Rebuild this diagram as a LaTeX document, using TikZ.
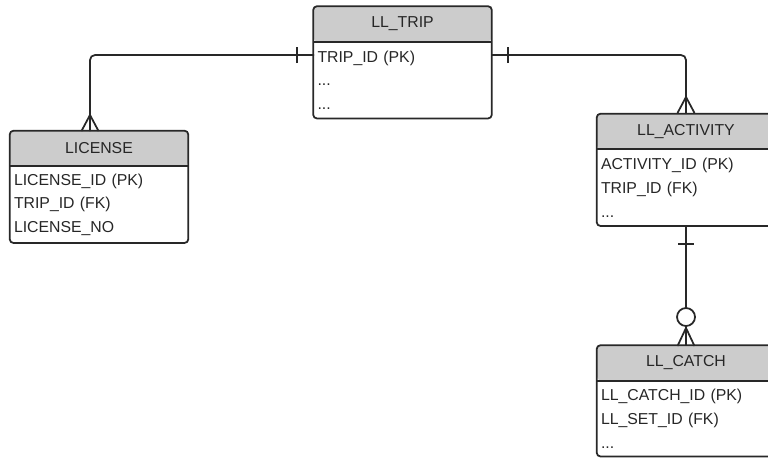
\documentclass[tikz,border=0pt]{standalone}
\usepackage{fontspec}
\setmainfont{Liberation Sans}
\usetikzlibrary{positioning, fit}
\definecolor{headgray}{RGB}{204,204,204}
\definecolor{linegray}{RGB}{40,40,40}

\begin{document}
\begin{tikzpicture}[
  ehead/.style={fill=headgray, rounded corners=0.08cm, minimum width=3.56cm, minimum height=0.7cm, inner sep=0pt, font=\fontsize{9}{11}\selectfont, text=black!85},
  ebody/.style={minimum width=3.56cm, minimum height=1.52cm, text width=3.4cm, align=left, inner sep=0pt, font=\fontsize{9}{13.5}\selectfont, text=black!85},
  eframe/.style={draw=linegray, line width=1pt, rounded corners=0.08cm, inner sep=0pt},
  rel/.style={draw=linegray, line width=1pt, rounded corners=0.1cm},
  foot/.style={draw=linegray, line width=1pt}
]
\useasboundingbox (0,0) rectangle (15.36,9.14);
\clip (0,0) rectangle (15.36,9.14);

% LL_TRIP
\node[ehead] (trip) at (8.05, 8.66) {LL\_TRIP};
\node[ebody, below=0pt of trip] (trip-b) {TRIP\_ID (PK)\\...\\...};
\node[eframe, fit=(trip)(trip-b)] (trip-f) {};
\draw[foot] (trip.south west) -- (trip.south east);

% LICENSE
\node[ehead] (license) at (1.98, 6.17) {LICENSE};
\node[ebody, below=0pt of license] (license-b) {LICENSE\_ID (PK)\\TRIP\_ID (FK)\\LICENSE\_NO};
\node[eframe, fit=(license)(license-b)] (license-f) {};
\draw[foot] (license.south west) -- (license.south east);

% LL_ACTIVITY
\node[ehead] (activity) at (13.72, 6.51) {LL\_ACTIVITY};
\node[ebody, below=0pt of activity] (activity-b) {ACTIVITY\_ID (PK)\\TRIP\_ID (FK)\\...};
\node[eframe, fit=(activity)(activity-b)] (activity-f) {};
\draw[foot] (activity.south west) -- (activity.south east);

% LL_CATCH
\node[ehead] (catch) at (13.72, 1.88) {LL\_CATCH};
\node[ebody, minimum height=1.5cm, below=0pt of catch] (catch-b) {LL\_CATCH\_ID (PK)\\LL\_SET\_ID (FK)\\...};
\node[eframe, fit=(catch)(catch-b)] (catch-f) {};
\draw[foot] (catch.south west) -- (catch.south east);

% attachment points
\coordinate (tripL) at (6.28, 8.04);
\coordinate (tripR) at (9.82, 8.04);
\coordinate (licT) at (1.80, 6.52);
\coordinate (actT) at (13.72, 6.88);
\coordinate (actB) at (13.72, 4.64);
\coordinate (catT) at (13.72, 2.22);

% trip 1 -- many license
\draw[rel] (tripL) -| (licT);
\draw[foot] (tripL) ++(-0.34,-0.16) -- ++(0,0.32);
\draw[foot] (licT) ++(-0.17,0) -- ++(0.17,0.32) -- ++(0.17,-0.32);

% trip 1 -- many activity
\draw[rel] (tripR) -| (actT);
\draw[foot] (tripR) ++(0.34,-0.16) -- ++(0,0.32);
\draw[foot] (actT) ++(-0.17,0) -- ++(0.17,0.32) -- ++(0.17,-0.32);

% activity 1 -- 0..many catch
\draw[rel] (actB) -- (catT);
\draw[foot] (actB) ++(-0.16,-0.38) -- ++(0.32,0);
\draw[foot, fill=white] (catT) ++(0,0.58) circle (0.18);
\draw[foot] (catT) ++(-0.17,0) -- ++(0.17,0.36) -- ++(0.17,-0.36);

\end{tikzpicture}
\end{document}
